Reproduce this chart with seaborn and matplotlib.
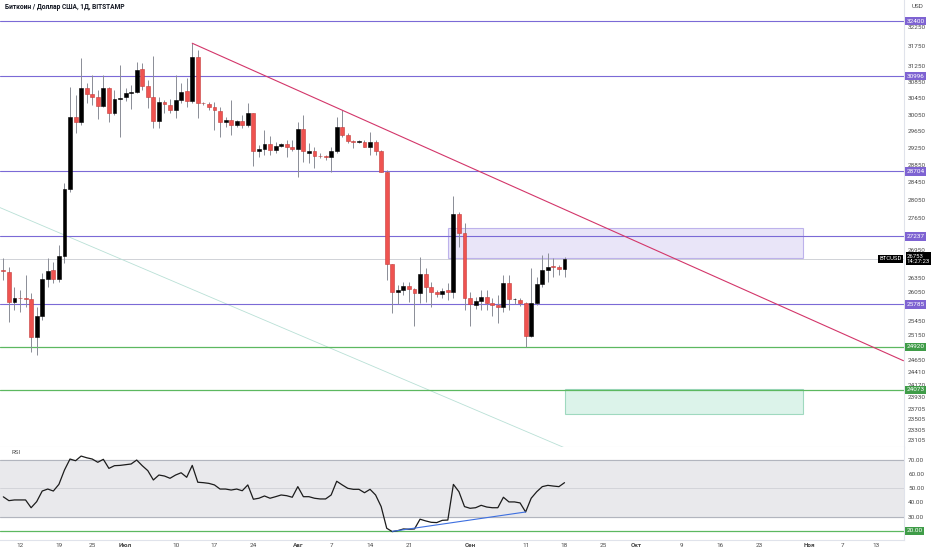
import matplotlib
matplotlib.use("Agg")
import matplotlib.pyplot as plt
import matplotlib.ticker as mticker
from matplotlib.patches import Rectangle
import pandas as pd
import seaborn as sns

# Daily BTC/USD candles, 9 Jun - 18 Sep 2023
dates = pd.date_range("2023-06-09", periods=102, freq="D")
opens = [26500, 26470, 25840, 25920, 25910, 25900, 25110, 25550, 26320, 26500,
         26320, 26820, 28300, 30000, 29880, 30690, 30550, 30470, 30270, 30690,
         30080, 30430, 30470, 30590, 30610, 31170, 30760, 30490, 29900, 30350,
         30280, 30160, 30410, 30630, 30380, 31470, 30340, 30300, 30240, 30140,
         29870, 29920, 29800, 29900, 29790, 30080, 29180, 29220, 29340, 29200,
         29310, 29340, 29270, 29220, 29700, 29140, 29170, 29070, 29060, 29050,
         29170, 29760, 29560, 29420, 29400, 29400, 29280, 29400, 29170, 28700,
         26630, 26040, 26090, 26180, 26110, 26030, 26430, 26160, 26040, 26000,
         26080, 26050, 27730, 27310, 25910, 25770, 25860, 25950, 25810, 25770,
         25740, 26230, 25890, 25880, 25820, 25140, 25820, 26210, 26510, 26600,
         26570, 26530]
highs = [26760, 26580, 26160, 26090, 26400, 26020, 25740, 26440, 26760, 26690,
         27050, 28430, 30730, 30530, 31450, 30820, 31030, 30650, 31030, 30730,
         30650, 31280, 30690, 30780, 31360, 31320, 30900, 31500, 30490, 30410,
         30420, 31030, 30820, 30940, 31830, 31660, 30360, 30360, 30360, 30240,
         30000, 30410, 29920, 30040, 30340, 30100, 29320, 29680, 29540, 29400,
         29360, 29440, 29440, 29880, 30040, 29380, 29280, 29130, 29090, 29280,
         30000, 30160, 29600, 29440, 29440, 29440, 29640, 29440, 29210, 28740,
         26640, 26190, 26260, 26260, 26120, 26800, 26550, 26260, 26090, 26120,
         26230, 28140, 27780, 27530, 26050, 25950, 26090, 26090, 25910, 25980,
         26400, 26400, 25910, 25910, 25840, 26550, 26370, 26830, 26870, 26760,
         26620, 26790]
lows = [26300, 25430, 25670, 25630, 25740, 24820, 24750, 25460, 26160, 26230,
        26260, 26650, 28240, 29600, 29800, 30330, 30280, 29940, 30240, 29880,
        30040, 29520, 30370, 30180, 30570, 30650, 30200, 29720, 29720, 30080,
        30080, 29960, 30330, 30240, 30330, 29960, 30280, 30160, 29680, 29520,
        29760, 29560, 29760, 29720, 29740, 28830, 29050, 29090, 29090, 29130,
        29280, 29050, 29170, 28580, 28930, 28890, 28780, 29010, 28970, 28700,
        29130, 29520, 29360, 29240, 29360, 29270, 29090, 29090, 28690, 26300,
        25600, 25790, 25980, 25840, 25340, 25810, 25840, 25740, 25950, 25910,
        25880, 25910, 27010, 25670, 25340, 25700, 25670, 25670, 25550, 25400,
        25630, 25670, 25790, 25750, 24920, 25120, 25770, 26160, 26260, 26370,
        26400, 26370]
closes = [26480, 25840, 25920, 25910, 25890, 25120, 25550, 26320, 26490, 26320,
          26820, 28300, 30000, 29880, 30710, 30550, 30470, 30270, 30690, 30080,
          30430, 30450, 30590, 30610, 31150, 30760, 30490, 29900, 30350, 30310,
          30160, 30410, 30610, 30380, 31470, 30340, 30330, 30240, 30160, 29880,
          29920, 29800, 29900, 29790, 30080, 29170, 29220, 29340, 29200, 29310,
          29340, 29270, 29220, 29700, 29170, 29190, 29070, 29060, 29050, 29170,
          29760, 29560, 29420, 29400, 29410, 29280, 29390, 29170, 28700, 26630,
          26040, 26090, 26170, 26110, 26030, 26430, 26160, 26040, 26000, 26070,
          26050, 27730, 27310, 25910, 25790, 25860, 25950, 25810, 25770, 25740,
          26230, 25900, 25900, 25820, 25140, 25820, 26210, 26510, 26580, 26570,
          26530, 26753]
rsi = [44.0, 41.3, 41.8, 41.8, 41.8, 36.3, 40.6, 48.1, 49.5, 48.1,
       52.8, 62.9, 70.7, 69.5, 72.8, 71.6, 70.7, 68.4, 70.5, 64.1,
       66.0, 66.2, 66.7, 67.2, 70.0, 66.0, 62.5, 55.9, 59.4, 58.7,
       57.1, 59.4, 61.0, 57.8, 66.2, 54.3, 54.0, 53.5, 52.4, 49.5,
       49.5, 48.8, 49.5, 48.3, 52.4, 42.3, 43.0, 44.6, 43.0, 44.1,
       45.3, 44.8, 43.7, 51.2, 44.1, 44.1, 43.0, 42.5, 42.5, 45.3,
       55.0, 52.4, 50.0, 49.3, 49.3, 46.9, 49.3, 45.3, 37.1, 21.8,
       19.4, 20.1, 21.3, 21.1, 21.3, 28.2, 27.0, 26.0, 25.8, 27.4,
       27.6, 52.8, 47.6, 37.1, 35.9, 36.3, 38.0, 36.8, 36.3, 36.3,
       43.7, 40.4, 40.4, 39.7, 33.3, 43.0, 47.6, 51.2, 52.1, 51.6,
       51.2, 54.0]

# drawings on the chart
levels_purple = [32400, 30996, 28704, 27237, 25785]
levels_green = [24920, 24073]
last_price = 26753
trend_dates = ["2023-07-13", "2023-11-18"]
trend_prices = [31830, 24640]
faint_dates = ["2023-06-08", "2023-09-18"]
faint_prices = [27900, 22970]
zone_purple = ("2023-08-28", "2023-10-31", 26760, 27430)
zone_green = ("2023-09-18", "2023-10-31", 23600, 24080)
rsi_line_days = [70, 94]
rsi_line_vals = [19.6, 33.3]

price_ticks = [32250, 31750, 31250, 30850, 30450, 30050, 29650, 29250, 28850,
               28450, 28050, 27650, 26950, 26350, 26050, 25450, 25150, 24650,
               24410, 24170, 23930, 23705, 23505, 23305, 23105]
rsi_ticks = [70, 60, 50, 40, 30]
x_labels = ["12", "19", "25", "Июл", "10", "17", "24", "Авг", "7", "14", "21",
            "Сен", "11", "18", "25", "Окт", "9", "16", "23", "Ноя", "7", "13"]
x_label_dates = ["2023-06-12", "2023-06-19", "2023-06-25", "2023-07-01",
                 "2023-07-10", "2023-07-17", "2023-07-24", "2023-08-01",
                 "2023-08-07", "2023-08-14", "2023-08-21", "2023-09-01",
                 "2023-09-11", "2023-09-18", "2023-09-25", "2023-10-01",
                 "2023-10-09", "2023-10-16", "2023-10-23", "2023-11-01",
                 "2023-11-07", "2023-11-13"]
month_names = ["Июл", "Авг", "Сен", "Окт", "Ноя"]


def day(d):
    return (pd.Timestamp(d) - dates[0]).days


sns.set_theme(style="white")
plt.rcParams["font.family"] = ["Roboto", "DejaVu Sans"]

PURPLE = "#7b6ad6"
GREEN = "#5cb860"
GRID = "#e0e3eb"
TXT = "#4a4a4a"

fig = plt.figure(figsize=(9.32, 5.5), dpi=100)
ax = fig.add_axes([0, 103 / 550, 904 / 932, 447 / 550])
ax2 = fig.add_axes([0, 10 / 550, 904 / 932, 93 / 550], sharex=ax)

df = pd.DataFrame({"x": [day(d) for d in dates], "o": opens, "h": highs,
                   "l": lows, "c": closes, "rsi": rsi})
df["up"] = df["c"] >= df["o"]

# ---- price pane
ax.set_yscale("log")
ax.set_ylim(22984, 32960)
ax.set_xlim(-0.6, 162.1)

ax.vlines(df["x"], df["l"], df["h"], color="#8a8d96", lw=0.7, zorder=3)
bottoms = df[["o", "c"]].min(axis=1)
heights = (df["c"] - df["o"]).abs().clip(lower=12)
ax.bar(df["x"], heights, bottom=bottoms, width=0.7,
       color=["#000000" if u else "#ef5350" for u in df["up"]],
       edgecolor=["#000000" if u else "#c43c3a" for u in df["up"]],
       linewidth=0.4, zorder=4)

for lv in levels_purple:
    ax.axhline(lv, color=PURPLE, lw=0.8, zorder=2)
for lv in levels_green:
    ax.axhline(lv, color=GREEN, lw=0.9, zorder=2)
ax.axhline(last_price, color="#c9cbd1", lw=0.6, zorder=1)

x0, x1, y0, y1 = zone_purple
ax.add_patch(Rectangle((day(x0), y0), day(x1) - day(x0), y1 - y0,
                       facecolor=(0.49, 0.40, 0.85, 0.17),
                       edgecolor=(0.49, 0.40, 0.85, 0.45), lw=0.8, zorder=1))
x0, x1, y0, y1 = zone_green
ax.add_patch(Rectangle((day(x0), y0), day(x1) - day(x0), y1 - y0,
                       facecolor=(0.25, 0.75, 0.55, 0.18),
                       edgecolor=(0.25, 0.70, 0.50, 0.45), lw=0.8, zorder=1))

ax.plot([day(d) for d in trend_dates], trend_prices, color="#d3366a", lw=0.8, zorder=5)
ax.plot([day(d) for d in faint_dates], faint_prices, color="#b9e0d6", lw=0.6, zorder=1)

ax.yaxis.tick_right()
ax.yaxis.set_minor_locator(mticker.NullLocator())
ax.set_yticks(price_ticks)
ax.set_yticklabels([str(t) for t in price_ticks])
ax.tick_params(axis="y", labelsize=4.6, colors=TXT, length=0, pad=3)
ax.tick_params(axis="x", bottom=False, labelbottom=False)
for s in ["top", "left"]:
    ax.spines[s].set_visible(False)
for s in ["right", "bottom"]:
    ax.spines[s].set_color(GRID)
    ax.spines[s].set_linewidth(0.8)

trans = ax.get_yaxis_transform()
for lv in levels_purple:
    ax.text(1.003, lv, str(lv), transform=trans, fontsize=4.6, color="white",
            va="center", ha="left", clip_on=False, zorder=10,
            bbox=dict(boxstyle="square,pad=0.25", fc="#7e63d2", ec="none"))
for lv in levels_green:
    ax.text(1.003, lv, str(lv), transform=trans, fontsize=4.6, color="white",
            va="center", ha="left", clip_on=False, zorder=10,
            bbox=dict(boxstyle="square,pad=0.25", fc="#3f9c48", ec="none"))
ax.text(1.003, last_price, f"{last_price}\n14:27:23", transform=trans,
        fontsize=4.3, color="white", va="center", ha="left", clip_on=False,
        zorder=10, linespacing=1.1,
        bbox=dict(boxstyle="square,pad=0.2", fc="#000000", ec="none"))
ax.text(0.9975, last_price, "BTCUSD", transform=trans, fontsize=4.3,
        color="white", va="center", ha="right", clip_on=False, zorder=10,
        bbox=dict(boxstyle="square,pad=0.25", fc="#000000", ec="none"))

# ---- RSI pane
ax2.set_ylim(13.5, 79.2)
ax2.axhspan(30, 70, color="#e9e9ec", zorder=0)
ax2.axhline(70, color="#b2b5be", lw=0.8)
ax2.axhline(30, color="#b2b5be", lw=0.8)
ax2.axhline(50, color="#cfd1d6", lw=0.6)
ax2.axhline(20, color=GREEN, lw=0.9)
sns.lineplot(data=df, x="x", y="rsi", ax=ax2, color="#1c1c1c", lw=0.9, zorder=4)
ax2.plot(rsi_line_days, rsi_line_vals, color="#3d6fe0", lw=0.8, zorder=5)
ax2.text(12 / 904, 1 - 6 / 93, "RSI", transform=ax2.transAxes, fontsize=4.5,
         color=TXT, va="center")

ax2.yaxis.tick_right()
ax2.set_yticks(rsi_ticks)
ax2.set_yticklabels([f"{t:.2f}" for t in rsi_ticks])
ax2.tick_params(axis="y", labelsize=4.6, colors=TXT, length=0, pad=3)
ax2.text(1.003, 20, "20.00", transform=ax2.get_yaxis_transform(), fontsize=4.6,
         color="white", va="center", ha="left", clip_on=False, zorder=10,
         bbox=dict(boxstyle="square,pad=0.25", fc="#3f9c48", ec="none"))
ax2.set_xticks([day(d) for d in x_label_dates])
ax2.set_xticklabels(x_labels)
ax2.tick_params(axis="x", labelsize=4.6, colors=TXT, length=0, pad=2)
for t in ax2.get_xticklabels():
    if t.get_text() in month_names:
        t.set_fontweight("bold")
ax2.set_xlabel("")
ax2.set_ylabel("")
ax.set_xlim(-0.6, 162.1)
for s in ["top", "left"]:
    ax2.spines[s].set_visible(False)
for s in ["right", "bottom"]:
    ax2.spines[s].set_color(GRID)
    ax2.spines[s].set_linewidth(0.8)

fig.text(5 / 932, 1 - 7 / 550, "Биткоин / Доллар США, 1Д, BITSTAMP",
         fontsize=4.8, color="#131722", fontweight="bold", va="center")
fig.text(912 / 932, 1 - 7 / 550, "USD", fontsize=4.6, color=TXT, va="center")

fig.savefig("out.png", dpi=100)
